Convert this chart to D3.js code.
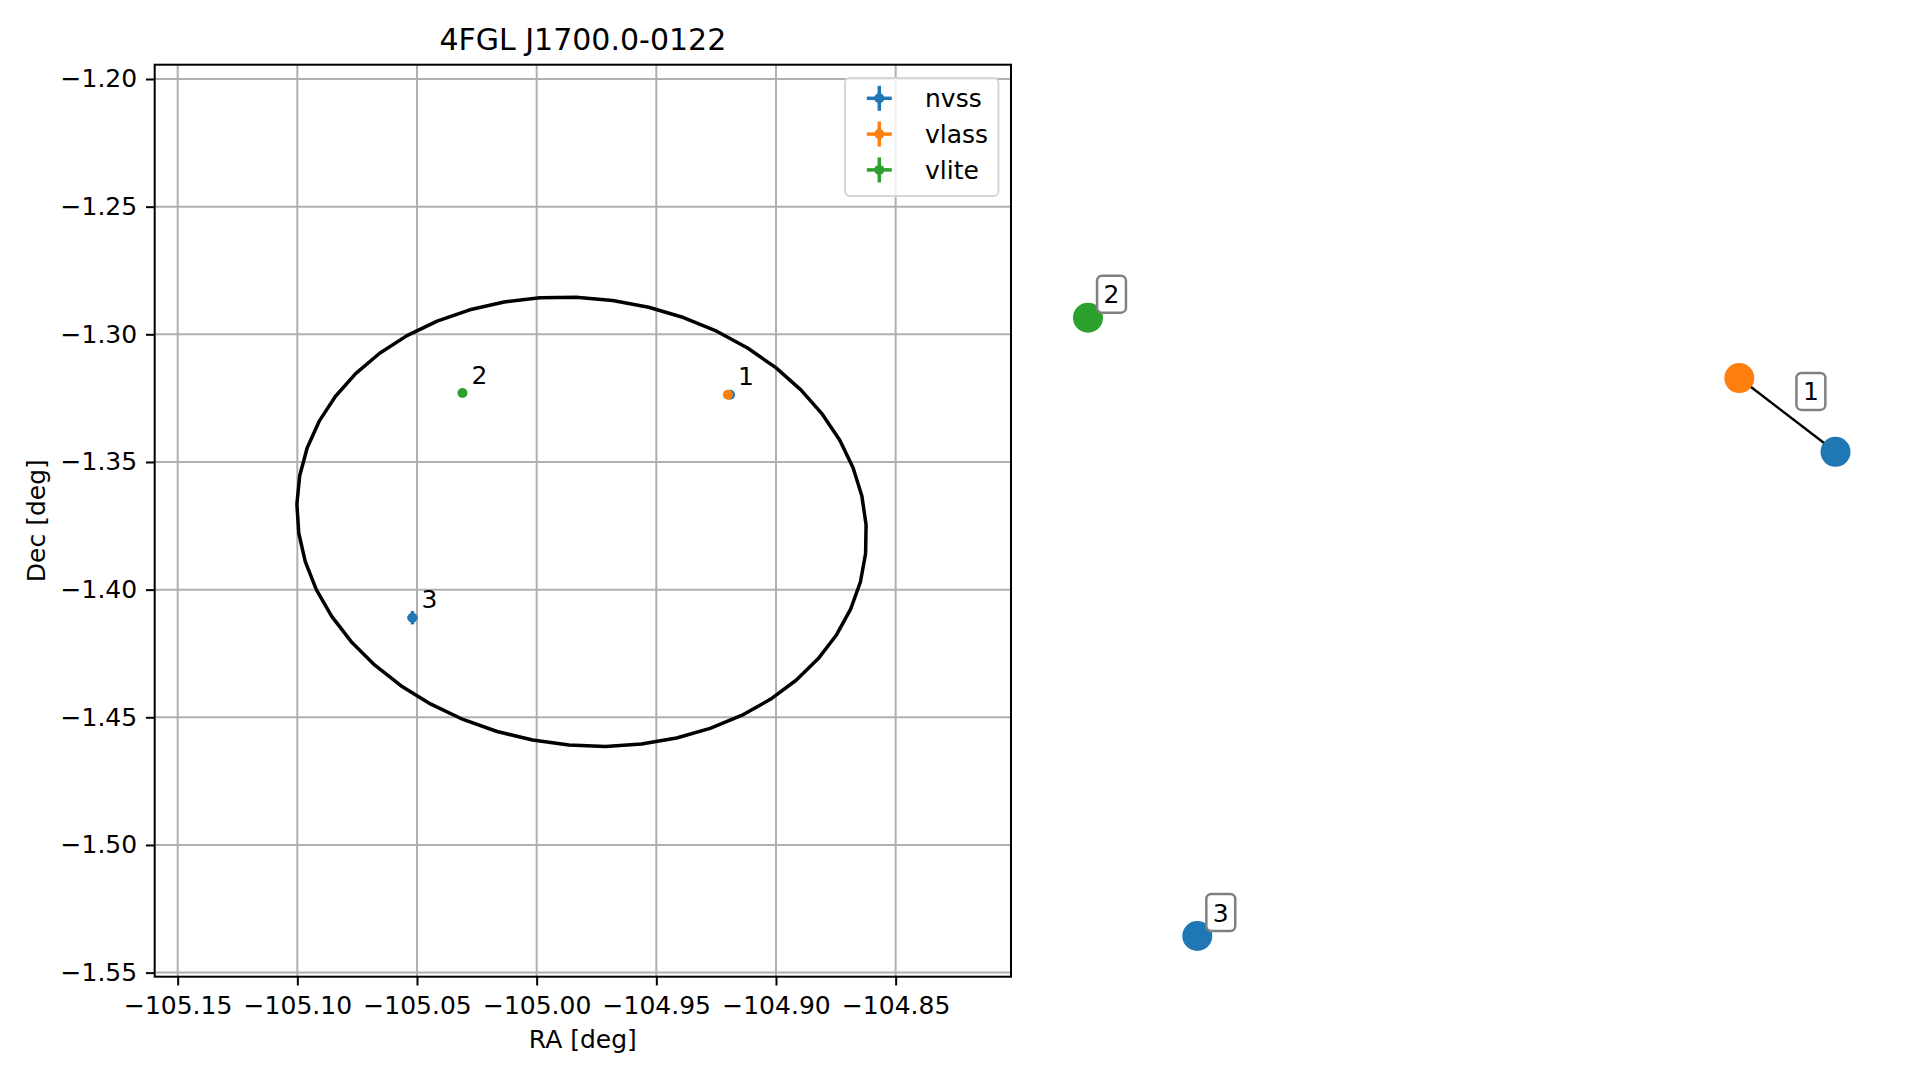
<!DOCTYPE html>
<html><head><meta charset="utf-8">
<script src="https://cdn.jsdelivr.net/npm/d3@7"></script>
<style>
body{margin:0;background:#fff}
svg{display:block}
text{font-family:"DejaVu Sans",sans-serif;fill:#000}
</style>
</head><body>
<svg id="c" width="1919" height="1080"></svg>
<script>
// ---------- data ----------
const chartTitle = "4FGL J1700.0-0122";
const xLabel = "RA [deg]";
const yLabel = "Dec [deg]";
const xTicks = [-105.15, -105.10, -105.05, -105.00, -104.95, -104.90, -104.85];
const yTicks = [-1.20, -1.25, -1.30, -1.35, -1.40, -1.45, -1.50, -1.55];
const xDomain = [-105.1596, -104.8018];
const yDomain = [-1.5516, -1.1944];

const surveys = ["nvss", "vlass", "vlite"];
const surveyColors = ["#1f77b4", "#ff7f0e", "#2ca02c"];

// catalogue positions (deg) per survey
const nvssRa = [-104.9192, -105.0519];
const nvssDec = [-1.3237, -1.4110];
const nvssRaErr = [0.0004, 0.0021];
const nvssDecErr = [0.0004, 0.0026];
const nvssGroup = ["1", "3"];

const vlassRa = [-104.9201];
const vlassDec = [-1.3237];
const vlassRaErr = [0.0001];
const vlassDecErr = [0.0001];
const vlassGroup = ["1"];

const vliteRa = [-105.0310];
const vliteDec = [-1.3230];
const vliteRaErr = [0.0003];
const vliteDecErr = [0.0003];
const vliteGroup = ["2"];

const groupNames = ["1", "2", "3"];

// 95% confidence ellipse of the Fermi source
const ellipseCenter = [-104.9812, -1.3734];
const ellipseAxes = [0.1193, 0.0876];   // semi-axes (deg)
const ellipseAngleDeg = -6.0;
const ellipseVertices = 50;

// cross-match graph (layout units)
const graphSurvey = ["nvss", "vlass", "vlite", "nvss"];
const graphGroup = ["1", "1", "2", "3"];
const graphX = [1.0, 0.7426, -1.0, -0.7076];
const graphY = [0.5663, 0.8048, 1.0, -1.0];
const graphEdges = [[0, 1]];

// ---------- layout ----------
const svg = d3.select("#c");
const L = 154.7, R = 1011, T = 64.7, B = 976.7;
const x = d3.scaleLinear().domain(xDomain).range([L, R]);
const y = d3.scaleLinear().domain(yDomain).range([B, T]);
const colorOf = d3.scaleOrdinal().domain(surveys).range(surveyColors);
const fmt = d3.format(".2f");

// grid
const grid = svg.append("g");
grid.selectAll("line.gx").data(xTicks).join("line")
  .attr("x1", d => x(d)).attr("x2", d => x(d)).attr("y1", T).attr("y2", B)
  .attr("stroke", "#b0b0b0").attr("stroke-width", 2);
grid.selectAll("line.gy").data(yTicks).join("line")
  .attr("y1", d => y(d)).attr("y2", d => y(d)).attr("x1", L).attr("x2", R)
  .attr("stroke", "#b0b0b0").attr("stroke-width", 2);

// ellipse
const th = ellipseAngleDeg * Math.PI / 180;
const ellPts = d3.range(ellipseVertices).map(i => {
  const t = 2 * Math.PI * i / (ellipseVertices - 1);
  const ex = ellipseAxes[0] * Math.cos(t), ey = ellipseAxes[1] * Math.sin(t);
  return [ellipseCenter[0] + ex * Math.cos(th) - ey * Math.sin(th),
          ellipseCenter[1] + ex * Math.sin(th) + ey * Math.cos(th)];
});
svg.append("path")
  .attr("d", d3.line().x(d => x(d[0])).y(d => y(d[1]))(ellPts))
  .attr("fill", "none").attr("stroke", "#000").attr("stroke-width", 3.5)
  .attr("stroke-linejoin", "round");

// sources
const surveyData = {
  nvss: {ra: nvssRa, dec: nvssDec, re: nvssRaErr, de: nvssDecErr, g: nvssGroup},
  vlass: {ra: vlassRa, dec: vlassDec, re: vlassRaErr, de: vlassDecErr, g: vlassGroup},
  vlite: {ra: vliteRa, dec: vliteDec, re: vliteRaErr, de: vliteDecErr, g: vliteGroup}
};
const pts = [];
surveys.forEach(s => {
  const d = surveyData[s];
  d.ra.forEach((ra, i) => pts.push({s, ra, dec: d.dec[i], re: d.re[i], de: d.de[i], g: d.g[i]}));
});
const pg = svg.append("g");
surveys.forEach(s => {
  const sp = pts.filter(p => p.s === s);
  const g = pg.append("g");
  g.selectAll("line.h").data(sp).join("line")
    .attr("x1", p => x(p.ra - p.re)).attr("x2", p => x(p.ra + p.re))
    .attr("y1", p => y(p.dec)).attr("y2", p => y(p.dec))
    .attr("stroke", colorOf(s)).attr("stroke-width", 3.5);
  g.selectAll("line.v").data(sp).join("line")
    .attr("x1", p => x(p.ra)).attr("x2", p => x(p.ra))
    .attr("y1", p => y(p.dec - p.de)).attr("y2", p => y(p.dec + p.de))
    .attr("stroke", colorOf(s)).attr("stroke-width", 3.5);
  g.selectAll("circle").data(sp).join("circle")
    .attr("cx", p => x(p.ra)).attr("cy", p => y(p.dec)).attr("r", 5)
    .attr("fill", colorOf(s));
});
// group labels
groupNames.forEach(gn => {
  const m = pts.filter(p => p.g === gn);
  pg.append("text")
    .attr("x", x(d3.mean(m, p => p.ra)) + 9)
    .attr("y", y(d3.mean(m, p => p.dec)) - 9.5)
    .attr("font-size", 25).text(gn);
});

// frame
svg.append("rect").attr("x", L).attr("y", T).attr("width", R - L).attr("height", B - T)
  .attr("fill", "none").attr("stroke", "#000").attr("stroke-width", 2);

// axes
const xa = svg.append("g").attr("transform", `translate(0,${B})`)
  .call(d3.axisBottom(x).tickValues(xTicks).tickFormat(fmt).tickSize(8.75).tickPadding(8.75).tickSizeOuter(0));
const ya = svg.append("g").attr("transform", `translate(${L},0)`)
  .call(d3.axisLeft(y).tickValues(yTicks).tickFormat(fmt).tickSize(8.75).tickPadding(8.75).tickSizeOuter(0));
[xa, ya].forEach(a => {
  a.select(".domain").remove();
  a.selectAll(".tick line").attr("stroke", "#000").attr("stroke-width", 2);
  a.selectAll(".tick text").attr("font-size", 25).attr("font-family", "DejaVu Sans").attr("fill", "#000");
});
xa.selectAll(".tick text").attr("dy", "0.78em");

svg.append("text").attr("x", (L + R) / 2).attr("y", 49.5).attr("text-anchor", "middle")
  .attr("font-size", 30).text(chartTitle);
svg.append("text").attr("x", (L + R) / 2).attr("y", 1048).attr("text-anchor", "middle")
  .attr("font-size", 25).text(xLabel);
svg.append("text").attr("transform", `translate(45,${(T + B) / 2}) rotate(-90)`)
  .attr("text-anchor", "middle").attr("font-size", 25).text(yLabel);

// legend
const lg = svg.append("g");
lg.append("rect").attr("x", 845).attr("y", 78).attr("width", 153.5).attr("height", 118)
  .attr("rx", 5).attr("fill", "#fff").attr("fill-opacity", 0.8)
  .attr("stroke", "#d6d6d6").attr("stroke-width", 2);
surveys.forEach((s, i) => {
  const cy = 98.3 + i * 35.8, cx = 879.3;
  lg.append("line").attr("x1", cx - 12.5).attr("x2", cx + 12.5).attr("y1", cy).attr("y2", cy)
    .attr("stroke", colorOf(s)).attr("stroke-width", 3.5);
  lg.append("line").attr("x1", cx).attr("x2", cx).attr("y1", cy - 12.5).attr("y2", cy + 12.5)
    .attr("stroke", colorOf(s)).attr("stroke-width", 3.5);
  lg.append("circle").attr("cx", cx).attr("cy", cy).attr("r", 5).attr("fill", colorOf(s));
  lg.append("text").attr("x", 925).attr("y", cy + 9).attr("font-size", 25).text(s);
});

// ---------- graph panel ----------
const gx = d3.scaleLinear().domain([-1, 1]).range([1088, 1835.5]);
const gy = d3.scaleLinear().domain([-1, 1]).range([936, 317.7]);
const gp = svg.append("g");
gp.selectAll("line").data(graphEdges).join("line")
  .attr("x1", e => gx(graphX[e[0]])).attr("y1", e => gy(graphY[e[0]]))
  .attr("x2", e => gx(graphX[e[1]])).attr("y2", e => gy(graphY[e[1]]))
  .attr("stroke", "#000").attr("stroke-width", 2.5);
gp.selectAll("circle").data(graphX.map((v, i) => i)).join("circle")
  .attr("cx", i => gx(graphX[i])).attr("cy", i => gy(graphY[i])).attr("r", 15)
  .attr("fill", i => colorOf(graphSurvey[i]));
groupNames.forEach(gn => {
  const idx = graphX.map((v, i) => i).filter(i => graphGroup[i] === gn);
  const cx = gx(d3.mean(idx, i => graphX[i])) + 23.5;
  const cy = gy(d3.mean(idx, i => graphY[i])) - 23.5;
  const box = gp.append("rect");
  const t = gp.append("text").attr("x", cx).attr("y", cy + 9).attr("text-anchor", "middle")
    .attr("font-size", 25).text(gn);
  const w = t.node().getComputedTextLength() + 13;
  box.attr("x", cx - w / 2).attr("y", cy - 18.5).attr("width", w).attr("height", 37)
    .attr("rx", 5).attr("fill", "#fff").attr("stroke", "#808080").attr("stroke-width", 2.5);
});
</script>
</body></html>
